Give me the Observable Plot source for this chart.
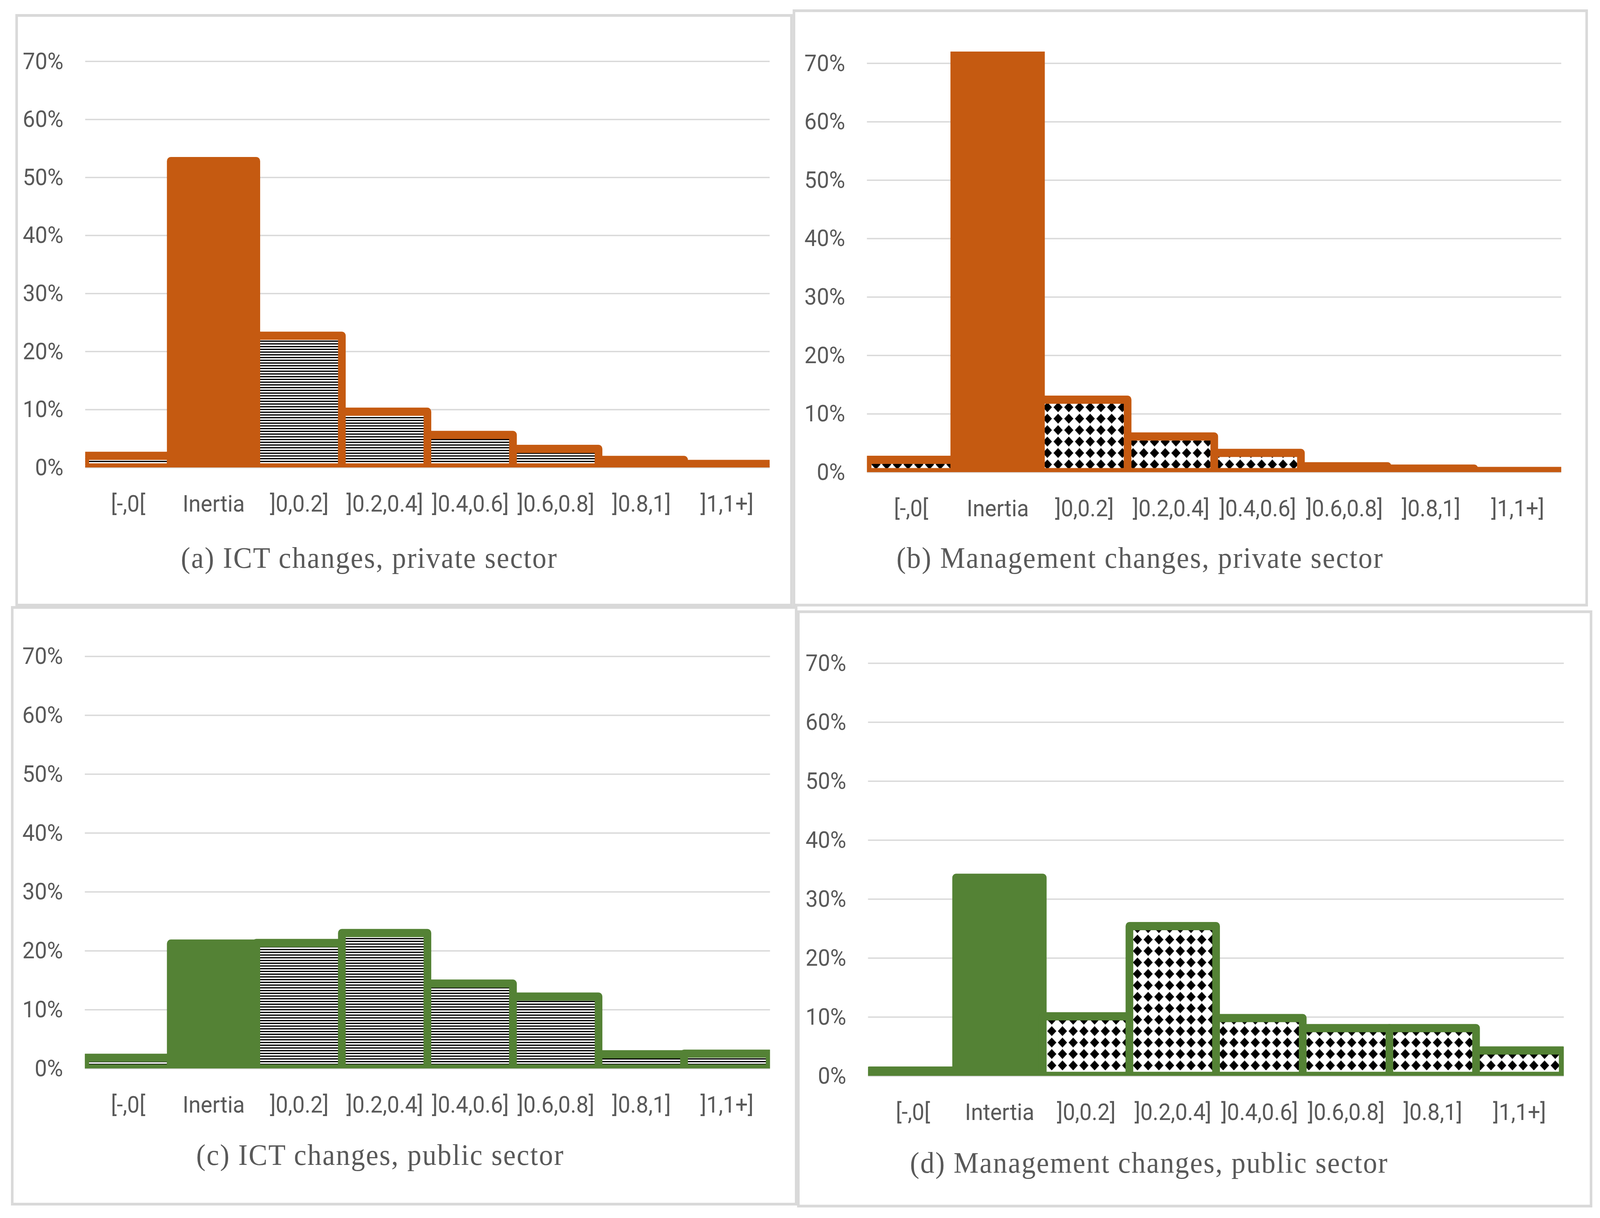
<!DOCTYPE html>
<html>
<head>
<meta charset="utf-8">
<script src="https://cdn.jsdelivr.net/npm/d3@7"></script>
<script src="https://cdn.jsdelivr.net/npm/@observablehq/plot@0.6"></script>
<style>
html, body { margin: 0; padding: 0; background: #fff; overflow: hidden; }
#wrap { position: relative; overflow: hidden; background: #fff; }
#page { position: absolute; left: 0; top: 0; width: 4376px; height: 3119px; background: #fff; overflow: hidden; transform-origin: 0 0; }
.frame { position: absolute; box-sizing: border-box; border: 7.5px solid #d9d9d9; }
.cap { position: absolute; width: 3000px; text-align: center; font-family: "Liberation Serif", serif; font-size: 77px; line-height: 77px; color: #595959; letter-spacing: 2.6px; white-space: nowrap; }
.plot { position: absolute; }
</style>
</head>
<body>
<div id="wrap"><div id="page"></div></div>
<script>
// ---- data ----
const categories = ["[-,0[", "Inertia", "]0,0.2]", "]0.2,0.4]", "]0.4,0.6]", "]0.6,0.8]", "]0.8,1]", "]1,1+]"];
const categoriesD = ["[-,0[", "Intertia", "]0,0.2]", "]0.2,0.4]", "]0.4,0.6]", "]0.6,0.8]", "]0.8,1]", "]1,1+]"];
const ictPrivate = [2.0, 52.8, 22.7, 9.6, 5.6, 3.2, 1.3, 0.6];
const mgmtPrivate = [2.1, 72.5, 12.4, 6.1, 3.3, 1.0, 0.6, 0.2];
const ictPublic = [1.8, 21.2, 21.3, 23.0, 14.4, 12.2, 2.4, 2.5];
const mgmtPublic = [0.9, 33.6, 10.1, 25.4, 9.8, 8.1, 8.1, 4.3];
const yTicks = [0, 0.1, 0.2, 0.3, 0.4, 0.5, 0.6, 0.7];
const captions = [
  "(a) ICT changes, private sector",
  "(b) Management changes, private sector",
  "(c) ICT changes, public sector",
  "(d) Management changes, public sector"
];

// ---- styles / layout ----
const orange = "#c55a11";
const green = "#548235";
const panels = [
  {id: "a", cats: categories, values: ictPrivate, color: orange, pattern: "lines", caption: captions[0],
   frame: [42, 36, 2168, 1553], plotX: [233, 2105], y0: 1197, y10: 148.6, capX: 1010, capBase: 1455},
  {id: "b", cats: categories, values: mgmtPrivate, color: orange, pattern: "diamonds", caption: captions[1],
   frame: [2168, 24, 4343, 1553], plotX: [2371, 4270], y0: 1209, y10: 149.6, capX: 3118, capBase: 1455},
  {id: "c", cats: categories, values: ictPublic, color: green, pattern: "lines", caption: captions[2],
   frame: [30, 1552, 2181, 3087], plotX: [232, 2106], y0: 2736, y10: 150.8, capX: 1040, capBase: 2984},
  {id: "d", cats: categoriesD, values: mgmtPublic, color: green, pattern: "diamonds", caption: captions[3],
   frame: [2180, 1563, 4355, 3092], plotX: [2374, 4277], y0: 2755, y10: 151, capX: 3143, capBase: 3004}
];

const wrap = document.getElementById("wrap");
const page = document.getElementById("page");
function fit() {
  const kx = window.innerWidth / 4376;
  const ky = window.innerHeight / 3119;
  page.style.transform = `scale(${kx}, ${ky})`;
  wrap.style.width = window.innerWidth + "px";
  wrap.style.height = window.innerHeight + "px";
}
fit();
window.addEventListener("resize", fit);

function defsMark(pid, kind) {
  return () => {
    const defs = d3.create("svg:defs");
    if (kind === "lines") {
      const p = defs.append("pattern").attr("id", pid).attr("patternUnits", "userSpaceOnUse")
        .attr("width", 7).attr("height", 7);
      p.append("rect").attr("width", 7).attr("height", 7).attr("fill", "#fff");
      p.append("rect").attr("y", 2).attr("width", 7).attr("height", 3.2).attr("fill", "#000");
    } else {
      const s = 29.3, r = 12.6, c = s / 2;
      const p = defs.append("pattern").attr("id", pid).attr("patternUnits", "userSpaceOnUse")
        .attr("width", s).attr("height", s);
      p.append("rect").attr("width", s).attr("height", s).attr("fill", "#fff");
      p.append("path").attr("d", `M${c},${c - r}L${c + r},${c}L${c},${c + r}L${c - r},${c}Z`).attr("fill", "#000");
    }
    return defs.node();
  };
}

for (const p of panels) {
  const [L, T, R, B] = p.frame;
  const fr = document.createElement("div");
  fr.className = "frame";
  Object.assign(fr.style, {left: L + "px", top: T + "px", width: (R - L) + "px", height: (B - T) + "px"});
  page.appendChild(fr);

  const svgL = L + 8, svgT = T + 8, svgW = R - L - 16;
  const plotTop = p.y0 - 7.2 * p.y10;
  const mB = 170;
  const H = Math.round(p.y0 + mB - svgT);
  const pid = "pat-" + p.id;
  const data = p.cats.map((c, i) => ({cat: c, value: p.values[i] / 100, fill: i === 1 ? p.color : `url(#${pid})`}));

  const chart = Plot.plot({
    width: svgW,
    height: H,
    marginLeft: p.plotX[0] - svgL,
    marginRight: svgL + svgW - p.plotX[1],
    marginTop: plotTop - svgT,
    marginBottom: H - (p.y0 - svgT),
    style: {fontFamily: "Roboto, sans-serif", fontSize: "60px", color: "#595959", background: "transparent", overflow: "visible"},
    x: {domain: p.cats, padding: 0, label: null},
    y: {domain: [0, 0.72], label: null},
    color: {type: "identity"},
    marks: [
      defsMark(pid, p.pattern),
      Plot.gridY(yTicks, {stroke: "#d9d9d9", strokeOpacity: 1, strokeWidth: 3.5}),
      Plot.barY(data, {x: "cat", y: "value", fill: "fill", stroke: p.color, strokeWidth: 21, strokeLinejoin: "round", clip: true}),
      Plot.axisY(yTicks, {tickSize: 0, tickPadding: 60, tickFormat: d3.format(".0%"), fontSize: 60, label: null}),
      Plot.axisX({tickSize: 0, tickPadding: 70, fontSize: 60, label: null})
    ]
  });
  chart.classList.add("plot");
  chart.style.left = svgL + "px";
  chart.style.top = svgT + "px";
  chart.style.position = "absolute";
  page.appendChild(chart);

  const cap = document.createElement("div");
  cap.className = "cap";
  cap.textContent = p.caption;
  cap.style.left = (p.capX - 1500) + "px";
  cap.style.top = (p.capBase - 65) + "px";
  page.appendChild(cap);
}
</script>
</body>
</html>
